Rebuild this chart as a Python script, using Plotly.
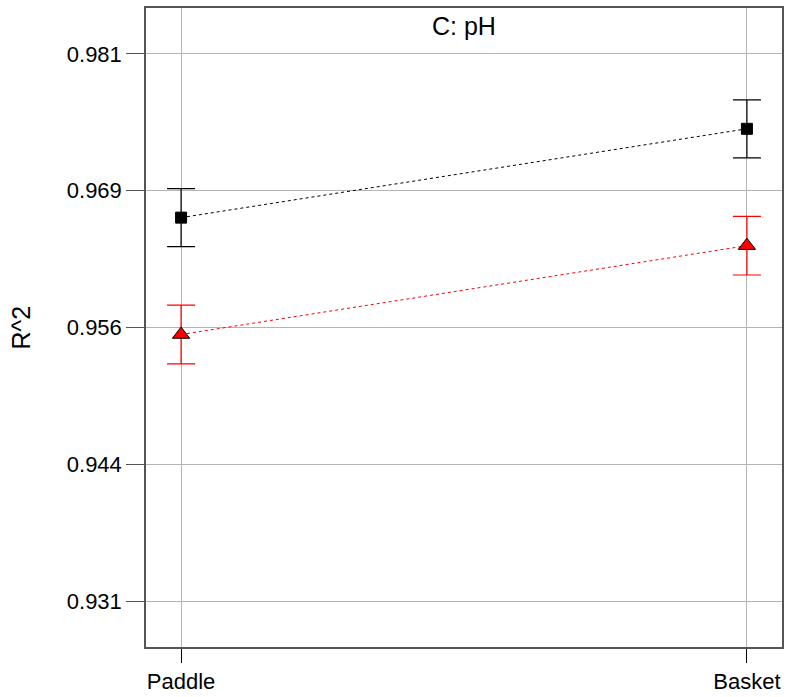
import plotly.graph_objects as go

# Factor levels and response means with half-width of the error bars
categories = ["Paddle", "Basket"]
black_means = [0.96629, 0.97441]
black_err = [0.00265, 0.00265]
red_means = [0.95561, 0.96373]
red_err = [0.00268, 0.00268]

tick_vals = [0.93125, 0.94375, 0.95625, 0.96875, 0.98125]
tick_text = ["0.931", "0.944", "0.956", "0.969", "0.981"]

FONT = "Liberation Sans, Arial, sans-serif"
xpos = list(range(len(categories)))

fig = go.Figure()

fig.add_trace(go.Scatter(
    x=xpos, y=black_means, mode="lines+markers",
    line=dict(color="black", width=1, dash="dot"),
    marker=dict(symbol="square", size=11, color="black",
                line=dict(color="black", width=1)),
    error_y=dict(type="data", array=black_err, visible=True,
                 color="black", thickness=1.2, width=14),
    showlegend=False,
))

fig.add_trace(go.Scatter(
    x=xpos, y=red_means, mode="lines+markers",
    line=dict(color="red", width=1, dash="dot"),
    marker=dict(symbol="triangle-up", size=15, color="red",
                line=dict(color="black", width=1)),
    error_y=dict(type="data", array=red_err, visible=True,
                 color="red", thickness=1.2, width=14),
    showlegend=False,
))

fig.update_layout(
    width=787, height=697,
    margin=dict(l=146, r=5, t=8, b=50),
    paper_bgcolor="white", plot_bgcolor="white",
    font=dict(family=FONT, size=22, color="black"),
    xaxis=dict(
        range=[-0.062, 1.062], tickvals=xpos, ticktext=categories,
        showgrid=True, gridcolor="#b4b4b4", gridwidth=1,
        ticks="outside", ticklen=14, tickcolor="black", tickwidth=1,
        showline=True, linecolor="#555555", linewidth=1.5, mirror=True,
        zeroline=False, tickfont=dict(size=22, family=FONT),
        automargin=False,
    ),
    yaxis=dict(
        range=[0.92705, 0.98545], tickvals=tick_vals, ticktext=tick_text,
        showgrid=True, gridcolor="#b4b4b4", gridwidth=1,
        ticks="outside", ticklen=18, tickcolor="#555555", tickwidth=1,
        showline=True, linecolor="#555555", linewidth=1.5, mirror=True,
        zeroline=False, tickfont=dict(size=22, family=FONT),
        automargin=False,
    ),
    annotations=[
        dict(text="C: pH", xref="paper", yref="paper", x=0.5, y=1,
             xanchor="center", yanchor="top", yshift=-2, showarrow=False,
             font=dict(size=25, family=FONT)),
        dict(text="R^2", xref="paper", yref="paper", x=-0.198, y=0.50,
             xanchor="center", yanchor="middle", textangle=-90,
             showarrow=False, font=dict(size=25, family=FONT)),
    ],
)

fig.write_html("out.html")
